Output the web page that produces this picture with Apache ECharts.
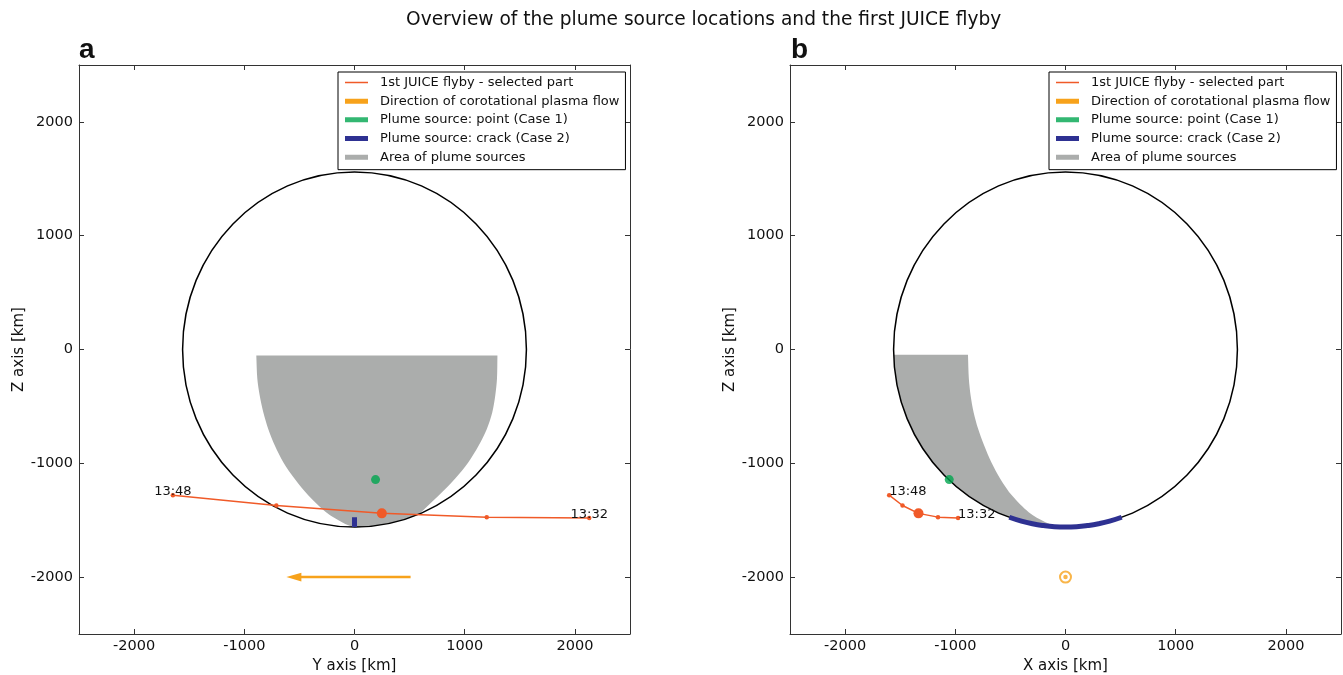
<!DOCTYPE html>
<html><head><meta charset="utf-8">
<script src="https://cdn.jsdelivr.net/npm/echarts@6/dist/echarts.min.js"></script>
<style>html,body{margin:0;padding:0;background:#fff}#c{width:1343px;height:675px}</style>
</head><body><div id="c"></div>
<script>
// ---------- data ----------
const chartTitle = 'Overview of the plume source locations and the first JUICE flyby';
const panelLetters = ['a', 'b'];
const xAxisNames = ['Y axis [km]', 'X axis [km]'];
const yAxisName = 'Z axis [km]';
const tickValues = [-2000, -1000, 0, 1000, 2000];
const axisRange = [-2500, 2500];
const seriesNames = [
  '1st JUICE flyby - selected part',
  'Direction of corotational plasma flow',
  'Plume source: point (Case 1)',
  'Plume source: crack (Case 2)',
  'Area of plume sources'
];
const moonOutline = [[0, 0, 1560]]; // centre y/x, centre z, radius
const flybyTimes = ['13:48', '13:44', '13:40', '13:36', '13:32'];
const flybyA = [[-1648, -1280], [-709, -1371], [248, -1440], [1200, -1473], [2130, -1480]];
const flybyB = [[-1600, -1280], [-1479, -1371], [-1334, -1440], [-1157, -1473], [-975, -1480]];
const closestIndex = 2;
const plumePointA = [[191, -1143]];
const plumePointB = [[-1055, -1143]];
const crackA = [[0, -1474], [0, -1560]];
const crackB = [[-510, -1474], [-400, -1508], [-300, -1531], [-200, -1547], [-100, -1557], [0, -1560],
  [100, -1557], [200, -1547], [300, -1531], [400, -1508], [510, -1474]];
const plumeAreaA = [[-891, -53], [1297, -53], [1293, -255], [1278, -400], [1250, -554], [1200, -700],
  [1127, -844], [1032, -993], [914, -1134], [764, -1284], [582, -1451], [428, -1500], [249, -1540],
  [100, -1556], [0, -1562], [-109, -1521], [-255, -1433], [-418, -1284], [-545, -1134], [-645, -993],
  [-723, -844], [-782, -700], [-827, -554], [-861, -400], [-882, -255]];
const plumeAreaB = [[-1559, -47], [-885, -47], [-877, -258], [-861, -404], [-834, -551], [-793, -697],
  [-738, -844], [-673, -991], [-591, -1137], [-485, -1284], [-334, -1430], [-182, -1518], [-91, -1547],
  [-20, -1559], [-176, -1550], [-305, -1530], [-462, -1490], [-624, -1430], [-782, -1350], [-933, -1250],
  [-1106, -1100], [-1274, -900], [-1440, -600], [-1531, -300]];
const plasmaFlowA = [[509, -2000, -618, -2000]]; // from (y,z) to (y,z)
const plasmaFlowB = [0, -2000]; // flow out of the X-Z plane

// ---------- styles ----------
const C = {flyby: '#f05a28', plasma: '#f7a21b', point: '#00a54f', crack: '#2e3192', area: '#abadac'};
const FONT = 'DejaVu Sans';

function axisX(grid, pos, name) {
  return {
    type: 'value', gridIndex: grid, position: pos, min: axisRange[0], max: axisRange[1],
    name: name || '', nameLocation: 'middle', nameGap: 23,
    nameTextStyle: {fontFamily: FONT, fontSize: 15, color: '#111'},
    splitLine: {show: false},
    axisLine: {onZero: false, lineStyle: {color: '#333', width: 1}},
    axisTick: {inside: true, length: 5, customValues: tickValues, lineStyle: {color: '#333'}},
    axisLabel: {show: !!name, customValues: tickValues, formatter: v => String(v),
      fontFamily: FONT, fontSize: 14.5, color: '#111', margin: 5}
  };
}
function axisY(grid, pos, name) {
  return {
    type: 'value', gridIndex: grid, position: pos, min: axisRange[0], max: axisRange[1],
    name: name || '', nameLocation: 'middle', nameGap: 48, nameRotate: 90,
    nameTextStyle: {fontFamily: FONT, fontSize: 15, color: '#111'},
    splitLine: {show: false},
    axisLine: {onZero: false, lineStyle: {color: '#333', width: 1}},
    axisTick: {inside: true, length: 5, customValues: tickValues, lineStyle: {color: '#333'}},
    axisLabel: {show: !!name, customValues: tickValues, formatter: v => String(v),
      fontFamily: FONT, fontSize: 14.5, color: '#111', margin: 6}
  };
}

// smooth outline; the listed vertex indices stay sharp corners
function areaSeries(pts, ai, corners) {
  return {
    type: 'custom', name: seriesNames[4], xAxisIndex: ai, yAxisIndex: ai, z: 1, silent: true,
    itemStyle: {color: C.area}, data: pts,
    renderItem: (params, api) => {
      if (params.dataIndex !== 0) return null;
      const px = [];
      pts.forEach((p, i) => {
        const c = api.coord(p);
        px.push(c);
        if (corners.indexOf(i) >= 0) px.push(c.slice());
      });
      return {type: 'polygon', shape: {points: px, smooth: 0.3}, style: {fill: C.area}};
    }
  };
}
function moonSeries(ai) {
  return {
    type: 'custom', xAxisIndex: ai, yAxisIndex: ai, z: 2, silent: true, data: moonOutline,
    encode: {x: 0, y: 1},
    renderItem: (params, api) => {
      const c = api.coord([api.value(0), api.value(1)]);
      const s = api.size([api.value(2), api.value(2)]);
      return {type: 'ellipse', shape: {cx: c[0], cy: c[1], rx: s[0], ry: s[1]},
        style: {fill: 'none', stroke: '#000', lineWidth: 1.5}};
    }
  };
}
function flybySeries(pts, ai, align) {
  return {
    type: 'line', name: seriesNames[0], xAxisIndex: ai, yAxisIndex: ai, z: 3,
    color: C.flyby, lineStyle: {width: 1.5, color: C.flyby}, symbol: 'circle',
    itemStyle: {color: C.flyby}, animation: false,
    data: pts.map((p, i) => {
      const last = i === 0 || i === pts.length - 1;
      return {
        value: p, symbolSize: i === closestIndex ? 10 : 4.5,
        label: {
          show: last, formatter: flybyTimes[i], position: 'inside', align: align, verticalAlign: 'bottom',
          offset: [0, 3], fontFamily: FONT, fontSize: 13, color: '#111'
        }
      };
    })
  };
}
function crackSeries(pts, ai, smooth) {
  return {
    type: 'line', name: seriesNames[3], xAxisIndex: ai, yAxisIndex: ai, z: 4, smooth: smooth,
    color: C.crack, symbol: 'none', lineStyle: {width: 5, color: C.crack}, data: pts, animation: false
  };
}
function pointSeries(pts, ai) {
  return {
    type: 'scatter', name: seriesNames[2], xAxisIndex: ai, yAxisIndex: ai, z: 5,
    symbolSize: 9, itemStyle: {color: C.point}, data: pts
  };
}
function arrowSeries(ai) {
  return {
    type: 'custom', name: seriesNames[1], xAxisIndex: ai, yAxisIndex: ai, z: 5,
    itemStyle: {color: C.plasma}, encode: {x: [0, 2], y: [1, 3]}, data: plasmaFlowA,
    renderItem: (params, api) => {
      const p0 = api.coord([api.value(0), api.value(1)]);
      const p1 = api.coord([api.value(2), api.value(3)]);
      const dx = p1[0] - p0[0], dy = p1[1] - p0[1], L = Math.hypot(dx, dy);
      const ux = dx / L, uy = dy / L, hl = 15, hw = 4.3;
      const b = [p1[0] - ux * hl, p1[1] - uy * hl];
      return {type: 'group', children: [
        {type: 'line', shape: {x1: p0[0], y1: p0[1], x2: b[0] + ux * 2, y2: b[1] + uy * 2},
          style: {stroke: C.plasma, lineWidth: 2.5}},
        {type: 'polygon', shape: {points: [p1, [b[0] - uy * hw, b[1] + ux * hw], [b[0] + uy * hw, b[1] - ux * hw]]},
          style: {fill: C.plasma}}
      ]};
    }
  };
}
function outOfPlaneSeries(ai) {
  return {
    type: 'scatter', name: seriesNames[1], xAxisIndex: ai, yAxisIndex: ai, z: 5,
    itemStyle: {color: C.plasma},
    data: [
      {value: plasmaFlowB, symbol: 'emptyCircle', symbolSize: 11, itemStyle: {borderWidth: 2, borderColor: C.plasma, color: C.plasma}},
      {value: plasmaFlowB, symbol: 'circle', symbolSize: 4.5, itemStyle: {color: C.plasma, borderWidth: 0}}
    ]
  };
}

const thinIcon = 'path://M0,0L30,0Z M0,2.75L23,2.75L23,4.25L0,4.25Z M0,7L30,7Z';
const thickIcon = 'path://M0,0L30,0Z M0,1L23,1L23,6L0,6Z M0,7L30,7Z';
function legend(left) {
  return {
    orient: 'vertical', left: left, top: 72, itemWidth: 30, itemHeight: 7, itemGap: 3.67,
    padding: [3, 6, 5, 7], borderColor: '#000', borderWidth: 1, backgroundColor: '#fff',
    textStyle: {fontFamily: FONT, fontSize: 13, color: '#111', lineHeight: 15},
    itemStyle: {borderWidth: 0}, selectedMode: false,
    data: seriesNames.map((n, i) => ({name: n, icon: i === 0 ? thinIcon : thickIcon}))
  };
}

const option = {
  animation: false,
  backgroundColor: '#fff',
  title: [
    {text: chartTitle, left: 406, top: 11, padding: 0, textStyle: {fontFamily: FONT, fontSize: 18.6, fontWeight: 'normal', color: '#111'}},
    {text: panelLetters[0], left: 79, top: 36, padding: 0, textStyle: {fontFamily: 'Liberation Sans', fontSize: 28, fontWeight: 'bold', color: '#111'}},
    {text: panelLetters[1], left: 791, top: 36, padding: 0, textStyle: {fontFamily: 'Liberation Sans', fontSize: 28, fontWeight: 'bold', color: '#111'}}
  ],
  legend: [legend(338), legend(1049)],
  grid: [
    {left: 79, top: 65, width: 551, height: 569, outerBoundsMode: 'none', containLabel: false},
    {left: 790, top: 65, width: 551, height: 569, outerBoundsMode: 'none', containLabel: false}
  ],
  xAxis: [axisX(0, 'bottom', xAxisNames[0]), axisX(0, 'top'), axisX(1, 'bottom', xAxisNames[1]), axisX(1, 'top')],
  yAxis: [axisY(0, 'left', yAxisName), axisY(0, 'right'), axisY(1, 'left', yAxisName), axisY(1, 'right')],
  series: [
    areaSeries(plumeAreaA, 0, [0, 1, 10]), moonSeries(0), flybySeries(flybyA, 0, 'center'), crackSeries(crackA, 0, false),
    pointSeries(plumePointA, 0), arrowSeries(0),
    areaSeries(plumeAreaB, 2, [0, 1, 13]), moonSeries(2), flybySeries(flybyB, 2, 'left'), crackSeries(crackB, 2, true),
    pointSeries(plumePointB, 2), outOfPlaneSeries(2)
  ]
};
const chart = echarts.init(document.getElementById('c'), null, {renderer: 'canvas'});
chart.setOption(option);
</script>
</body></html>
